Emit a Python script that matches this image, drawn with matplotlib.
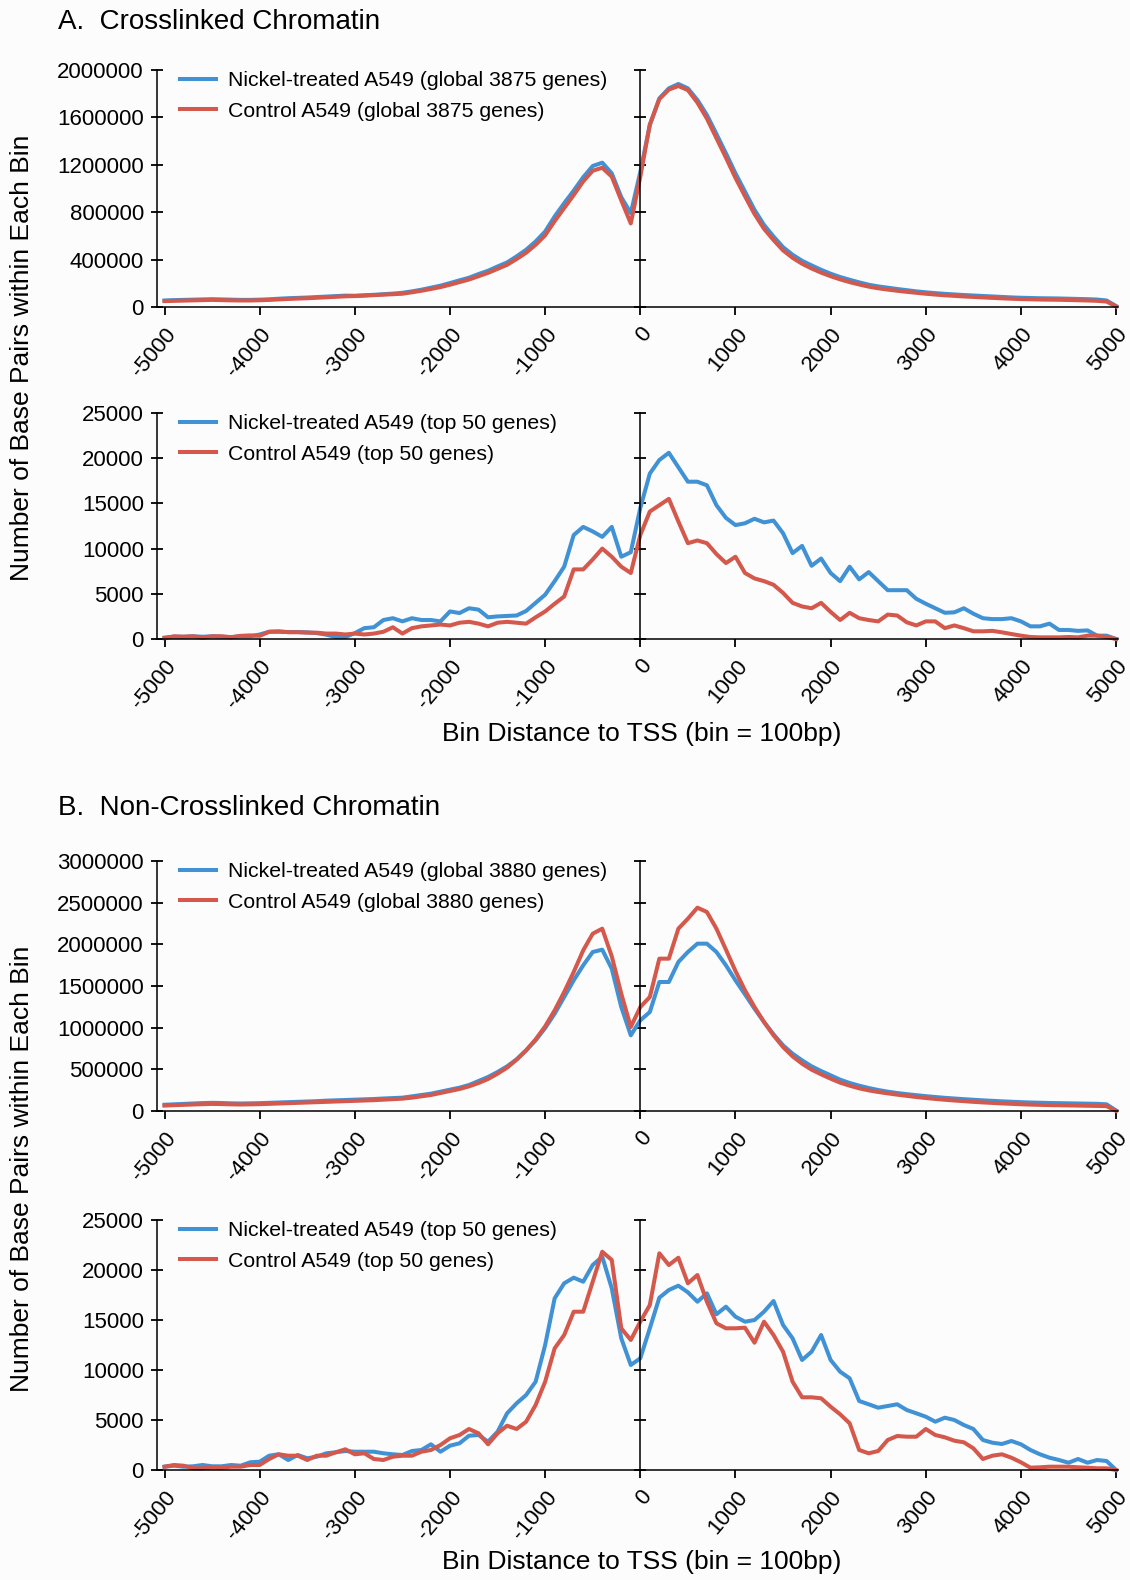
import numpy as np
import matplotlib
matplotlib.use('Agg')
import matplotlib.pyplot as plt

plt.rcParams['font.family'] = ['Liberation Sans', 'DejaVu Sans']
plt.rcParams['axes.unicode_minus'] = False

# Distància al TSS (bins de 100 bp)
dist = np.arange(-5000, 5001, 100)

# A. Crosslinked, global (3875 gens) - valors en milers
a_glob_ni = [55, 58, 60, 62, 64, 66, 64, 62, 60, 60,
             62, 65, 70, 74, 77, 80, 84, 88, 92, 96,
             95, 99, 103, 108, 113,
             120, 132, 146, 163, 180, 202, 225, 247, 278, 306,
             342, 376, 427, 483, 553, 637, 764, 876, 982, 1095,
             1190, 1218, 1128, 926, 792,
             1140, 1535, 1760, 1845, 1882, 1845, 1747, 1620, 1460, 1297,
             1128, 974, 820, 693, 595, 505, 441, 390, 351, 314,
             281, 253, 230, 208, 188, 174, 163,
             152, 142, 132, 124, 117, 111, 106, 101, 97, 93,
             89, 85, 81, 78, 76, 74, 73, 72, 70, 68,
             66, 63, 55, 8]
a_glob_ct = [50, 52, 54, 56, 58, 60, 58, 56, 55, 55,
             57, 60, 64, 68, 71, 74, 78, 82, 86, 90,
             92, 96, 100, 104, 108,
             112, 124, 137, 152, 168, 188, 210, 232, 260, 288,
             322, 356, 405, 458, 525, 605, 725, 835, 945, 1060,
             1150, 1175, 1100, 900, 705,
             1100, 1540, 1755, 1835, 1865, 1830, 1725, 1590, 1425, 1260,
             1090, 935, 785, 660, 565, 478, 415, 365, 325, 290,
             260, 233, 210, 190, 172, 158, 147,
             137, 128, 120, 112, 105, 99, 94, 89, 85, 81,
             77, 73, 70, 67, 65, 63, 62, 61, 59, 57,
             55, 52, 46, 5]

# A. Crosslinked, top 50 gens
a_top_ni = [150, 250, 250, 300, 250, 300, 250, 200, 300, 300,
            500, 800, 800, 770, 770, 740, 650, 480, 220, 220,
            650, 1200, 1300, 2100, 2300, 1950, 2300, 2100, 2100, 1950,
            3050, 2870, 3400, 3250, 2400, 2500, 2550, 2600, 3100, 4000,
            4900, 6400, 8000, 11500, 12400, 11900, 11300, 12400, 9100, 9600,
            14500, 18300, 19800, 20600, 19000, 17400, 17400, 17000, 14800, 13400,
            12600, 12800, 13300, 12900, 13100, 11700, 9500, 10300, 8100, 8900,
            7300, 6400, 8000, 6600, 7400, 6400, 5400, 5400, 5400, 4450,
            3900, 3400, 2900, 2950, 3400, 2800, 2300, 2200, 2200, 2300,
            1950, 1400, 1400, 1700, 1000, 1000, 900, 950, 370, 370,
            0]
a_top_ct = [100, 300, 250, 300, 150, 300, 300, 200, 350, 400,
            350, 800, 850, 750, 750, 700, 700, 600, 600, 500,
            600, 500, 600, 800, 1300, 600, 1200, 1400, 1500, 1600,
            1500, 1800, 1900, 1700, 1400, 1800, 1900, 1800, 1700, 2400,
            3050, 3900, 4700, 7700, 7700, 8800, 10000, 9100, 8000, 7300,
            11500, 14100, 14800, 15500, 13000, 10600, 10900, 10600, 9400, 8400,
            9100, 7300, 6700, 6400, 6000, 5100, 4000, 3600, 3400, 4000,
            3000, 2100, 2900, 2300, 2100, 1950, 2700, 2600, 1850, 1500,
            1950, 1950, 1200, 1500, 1200, 850, 850, 900, 740, 550,
            370, 220, 180, 180, 180, 220, 180, 370, 370, 220,
            0]

# B. Non-crosslinked, global (3880 gens) - valors en milers
b_glob_ni = [75, 80, 85, 90, 95, 98, 96, 92, 90, 92,
             94, 98, 102, 106, 110, 114, 118, 124, 128, 132,
             136, 140, 144, 150, 155,
             160, 176, 192, 208, 232, 256, 280, 312, 360, 408,
             468, 536, 620, 728, 848, 996, 1168, 1368, 1568, 1748,
             1908, 1936, 1708, 1248, 908,
             1088, 1188, 1548, 1548, 1788, 1908, 2008, 2008, 1908, 1748,
             1568, 1400, 1228, 1068, 920, 788, 688, 608, 536, 480,
             428, 376, 336, 304, 276, 252, 232, 216,
             202, 190, 178, 168, 158, 150, 142, 135, 128, 122,
             116, 111, 106, 102, 99, 96, 94, 92, 90, 88,
             86, 80, 5]
b_glob_ct = [65, 70, 74, 78, 82, 85, 83, 80, 78, 80,
             82, 86, 90, 94, 98, 102, 106, 110, 114, 118,
             122, 126, 130, 136, 142,
             148, 160, 176, 192, 216, 240, 264, 296, 336, 384,
             448, 520, 616, 728, 860, 1016, 1208, 1428, 1668, 1928,
             2128, 2188, 1856, 1408, 1008,
             1248, 1368, 1828, 1828, 2188, 2308, 2440, 2388, 2188, 1936,
             1680, 1448, 1248, 1068, 908, 768, 656, 568, 496, 440,
             388, 340, 304, 272, 248, 228, 212, 196,
             182, 168, 156, 145, 135, 126, 118, 110, 103, 97,
             91, 86, 81, 77, 74, 71, 69, 67, 65, 63,
             61, 58, 2]

# B. Non-crosslinked, top 50 gens
b_top_ni = [330, 430, 330, 370, 500, 370, 370, 500, 430, 770,
            830, 1430, 1570, 1000, 1500, 1170, 1330, 1670, 1770, 1900,
            1830, 1830, 1830, 1670, 1570, 1500, 1900, 2000, 2570, 1830,
            2430, 2670, 3430, 3500, 2830, 3830, 5670, 6670, 7500, 8830,
            12500, 17170, 18670, 19230, 18830, 20500, 21330, 18170, 13170, 10500,
            11170, 14170, 17230, 18000, 18430, 17770, 16830, 17670, 15570, 16330,
            15330, 14830, 15000, 15830, 16900, 14500, 13170, 11000, 11830, 13500,
            11000, 9830, 9170, 6900, 6570, 6230, 6400, 6570, 6000, 5670,
            5330, 4830, 5230, 5000, 4500, 4100, 3000, 2730, 2600, 2900,
            2570, 2000, 1570, 1230, 1000, 730, 1100, 730, 1000, 900,
            0]
b_top_ct = [330, 500, 430, 170, 170, 270, 230, 330, 330, 500,
            500, 1100, 1570, 1430, 1430, 1000, 1430, 1430, 1770, 2070,
            1570, 1670, 1100, 1000, 1330, 1430, 1430, 1830, 2000, 2500,
            3170, 3500, 4100, 3670, 2570, 3670, 4430, 4100, 4830, 6500,
            8830, 12170, 13500, 15830, 15830, 18830, 21830, 21000, 14170, 13000,
            14830, 16500, 21670, 20500, 21230, 18670, 19500, 16830, 14670, 14170,
            14170, 14230, 12730, 14830, 13500, 11830, 8830, 7270, 7270, 7170,
            6330, 5570, 4670, 2000, 1670, 1900, 3000, 3400, 3330, 3330,
            4100, 3500, 3270, 2930, 2770, 2170, 1100, 1430, 1570, 1230,
            770, 230, 270, 330, 330, 330, 270, 230, 170, 170,
            0]

blau = '#4191d5'
vermell = '#d4584b'
W, H = 1130, 1580

fig = plt.figure(figsize=(W / 100, H / 100), dpi=100, facecolor='#fcfcfd')


def panell(top, bottom, y1, y2, lab1, lab2, ymax, ystep, escala):
    ax = fig.add_axes([157 / W, 1 - bottom / H, (1118 - 157) / W, (bottom - top) / H])
    ax.set_facecolor('none')
    ax.plot(dist, np.array(y1) * escala, color=blau, lw=2.9, label=lab1, clip_on=False)
    ax.plot(dist, np.array(y2) * escala, color=vermell, lw=2.9, label=lab2, clip_on=False)
    ax.set_xlim(-5079, 5020)
    ax.set_ylim(0, ymax)
    ax.set_xticks(np.arange(-5000, 5001, 1000))
    ax.set_yticks(np.arange(0, ymax + 1, ystep))
    ax.set_yticklabels([str(int(v)) for v in np.arange(0, ymax + 1, ystep)])
    ax.spines['top'].set_visible(False)
    ax.spines['right'].set_position(('data', 0))
    for s in ['left', 'right', 'bottom']:
        ax.spines[s].set_linewidth(1.1)
    ax.yaxis.set_ticks_position('both')
    ax.tick_params(axis='y', direction='inout', length=9, width=1.3, labelsize=16,
                   labelright=False, pad=5)
    ax.tick_params(axis='x', direction='out', length=6, width=1.3, labelsize=16, pad=6)
    for t in ax.get_xticklabels():
        t.set_rotation(50)
        t.set_ha('right')
        t.set_va('top')
        t.set_rotation_mode('anchor')
    ax.legend(loc='upper left', bbox_to_anchor=(180 / W, 1 - (top + 1) / H),
              bbox_transform=fig.transFigure, frameon=False, fontsize=15.3,
              handlelength=1.7, handletextpad=0.55, labelspacing=0.55,
              borderaxespad=0, borderpad=0)
    return ax


panell(70, 307, a_glob_ni, a_glob_ct,
       'Nickel-treated A549 (global 3875 genes)', 'Control A549 (global 3875 genes)',
       2000000, 400000, 1000)
panell(413, 639, a_top_ni, a_top_ct,
       'Nickel-treated A549 (top 50 genes)', 'Control A549 (top 50 genes)',
       25000, 5000, 1)
panell(861, 1111, b_glob_ni, b_glob_ct,
       'Nickel-treated A549 (global 3880 genes)', 'Control A549 (global 3880 genes)',
       3000000, 500000, 1000)
panell(1220, 1470, b_top_ni, b_top_ct,
       'Nickel-treated A549 (top 50 genes)', 'Control A549 (top 50 genes)',
       25000, 5000, 1)

fig.text(58 / W, 1 - 22 / H, 'A.  Crosslinked Chromatin', fontsize=20, va='center', ha='left')
fig.text(58 / W, 1 - 808 / H, 'B.  Non-Crosslinked Chromatin', fontsize=20, va='center', ha='left')
fig.text(22 / W, 1 - 358 / H, 'Number of Base Pairs within Each Bin', fontsize=19,
         rotation=90, va='center', ha='center')
fig.text(22 / W, 1 - 1169 / H, 'Number of Base Pairs within Each Bin', fontsize=19,
         rotation=90, va='center', ha='center')
fig.text(642 / W, 1 - 734 / H, 'Bin Distance to TSS (bin = 100bp)', fontsize=19,
         va='center', ha='center')
fig.text(642 / W, 1 - 1562 / H, 'Bin Distance to TSS (bin = 100bp)', fontsize=19,
         va='center', ha='center')

fig.savefig('out.png', dpi=100, facecolor=fig.get_facecolor())
